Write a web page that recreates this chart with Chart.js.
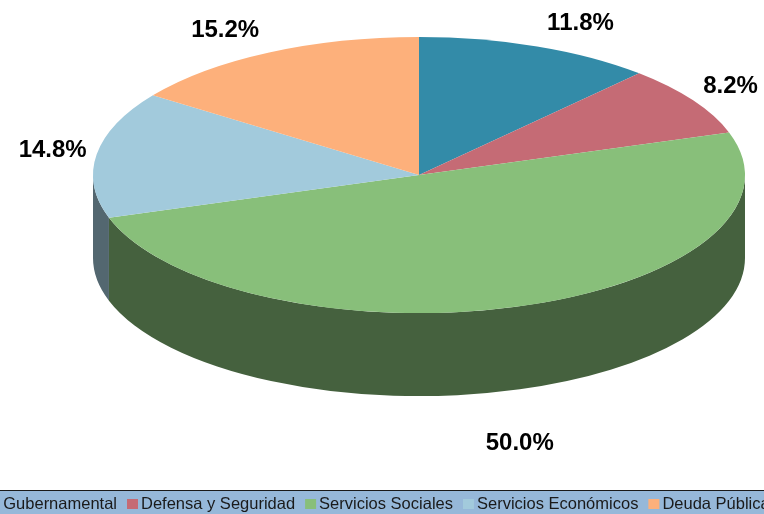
<!DOCTYPE html>
<html>
<head>
<meta charset="utf-8">
<script src="https://cdn.jsdelivr.net/npm/chart.js@4/dist/chart.umd.min.js"></script>
<style>
    html, body { margin: 0; padding: 0; background: #ffffff; overflow: hidden; }
    canvas { display: block; }
</style>
</head>
<body>
<canvas id="pie3d" width="764" height="514"></canvas>
<script>
// --- Data ---
const categories = ['Administración Gubernamental', 'Defensa y Seguridad', 'Servicios Sociales', 'Servicios Económicos', 'Deuda Pública'];
const shares = [11.8, 8.2, 50.0, 14.8, 15.2];
const sliceColors = ['#338BA8', '#C56B75', '#88BF7A', '#A2CADC', '#FDB07B'];

// --- Look of the fake 3D pie ---
const TILT = 0.4235;      // vertical squash of the top face
const DEPTH = 83;         // height of the side wall in px
const WALL_SHADE = 0.51;  // side walls are the slice colour darkened
const LABEL_FONT = 'bold 24px "Liberation Sans", Arial, sans-serif';
const LEGEND_FONT = '16.5px "Liberation Sans", Arial, sans-serif';
const LEGEND_TOP = 490;
const LEGEND_SECOND_X = 127; // legend is wider than the canvas, anchor on the 2nd item

function darken(hex, f) {
    const n = parseInt(hex.slice(1), 16);
    const r = Math.round(((n >> 16) & 255) * f);
    const g = Math.round(((n >> 8) & 255) * f);
    const b = Math.round((n & 255) * f);
    return `rgb(${r},${g},${b})`;
}

// ellipse geometry taken from the chart area
function geometry(chart) {
    const area = chart.chartArea;
    const rx = (area.right - area.left) / 2;
    const ry = rx * TILT;
    return { cx: (area.left + area.right) / 2, cy: area.top + ry, rx, ry };
}

const pie3dPlugin = {
    id: 'pie3d',
    beforeDatasetsDraw(chart) {
        const ctx = chart.ctx;
        const g = geometry(chart);
        const arcs = chart.getDatasetMeta(0).data;

        // side walls, only the front half (0..PI) can be seen
        arcs.forEach((arc, i) => {
            const a = Math.max(arc.startAngle, 0);
            const b = Math.min(arc.endAngle, Math.PI);
            if (a >= b) return;
            ctx.beginPath();
            ctx.ellipse(g.cx, g.cy, g.rx, g.ry, 0, a, b, false);
            ctx.ellipse(g.cx, g.cy + DEPTH, g.rx, g.ry, 0, b, a, true);
            ctx.closePath();
            ctx.fillStyle = darken(sliceColors[i], WALL_SHADE);
            ctx.fill();
        });

        // squash the round pie chart.js draws into the top ellipse
        const first = arcs[0];
        const R = first.outerRadius;
        ctx.save();
        ctx.translate(g.cx, g.cy);
        ctx.scale(g.rx / R, g.ry / R);
        ctx.translate(-first.x, -first.y);
    },
    afterDatasetsDraw(chart) {
        const ctx = chart.ctx;
        ctx.restore();

        const g = geometry(chart);
        const arcs = chart.getDatasetMeta(0).data;
        const total = shares.reduce((acc, v) => acc + v, 0);

        ctx.save();
        ctx.font = LABEL_FONT;
        ctx.fillStyle = '#000000';
        ctx.textAlign = 'center';
        ctx.textBaseline = 'middle';
        arcs.forEach((arc, i) => {
            const mid = (arc.startAngle + arc.endAngle) / 2;
            const cos = Math.cos(mid);
            const sin = Math.sin(mid);
            const text = (shares[i] / total * 100).toFixed(1) + '%';
            const w = ctx.measureText(text).width;
            const h = 22;
            const px = g.cx + g.rx * cos;
            const py = g.cy + g.ry * sin;
            const x = Math.abs(cos) < 0.33 ? px : px + Math.sign(cos) * (w / 2 + 10);
            const y = sin < 0 ? py + sin * (h / 2 + 14) : py + DEPTH + sin * (h / 2 + 46);
            ctx.fillText(text, x, y);
        });
        ctx.restore();
    },
    afterDraw(chart) {
        // legend strip across the bottom, clipped at both sides like the original
        const ctx = chart.ctx;
        const width = chart.width;
        ctx.save();
        ctx.fillStyle = '#96B8D9';
        ctx.fillRect(0, LEGEND_TOP, width, chart.height - LEGEND_TOP);
        ctx.fillStyle = '#1a1a1a';
        ctx.fillRect(0, LEGEND_TOP, width, 1);

        ctx.font = LEGEND_FONT;
        ctx.textBaseline = 'middle';
        ctx.textAlign = 'left';
        const box = 11, boxGap = 3, itemGap = 10;
        const midY = LEGEND_TOP + 14;

        const widths = categories.map(c => ctx.measureText(c).width);
        const xs = [];
        xs[1] = LEGEND_SECOND_X;
        xs[0] = xs[1] - itemGap - widths[0] - boxGap - box;
        for (let i = 2; i < categories.length; i++) {
            xs[i] = xs[i - 1] + box + boxGap + widths[i - 1] + itemGap;
        }
        categories.forEach((c, i) => {
            ctx.fillStyle = sliceColors[i];
            ctx.fillRect(xs[i], midY - 5, box, 10);
            ctx.fillStyle = '#1a1a1a';
            ctx.fillText(c, xs[i] + box + boxGap, midY);
        });
        ctx.restore();
    }
};

new Chart(document.getElementById('pie3d'), {
    type: 'pie',
    data: {
        labels: categories,
        datasets: [{
            data: shares,
            backgroundColor: sliceColors,
            borderWidth: 0
        }]
    },
    options: {
        responsive: false,
        animation: false,
        layout: {
            padding: { left: 93, right: 19, top: 37, bottom: 60 }
        },
        plugins: {
            legend: { display: false },
            tooltip: { enabled: false }
        }
    },
    plugins: [pie3dPlugin]
});
</script>
</body>
</html>
